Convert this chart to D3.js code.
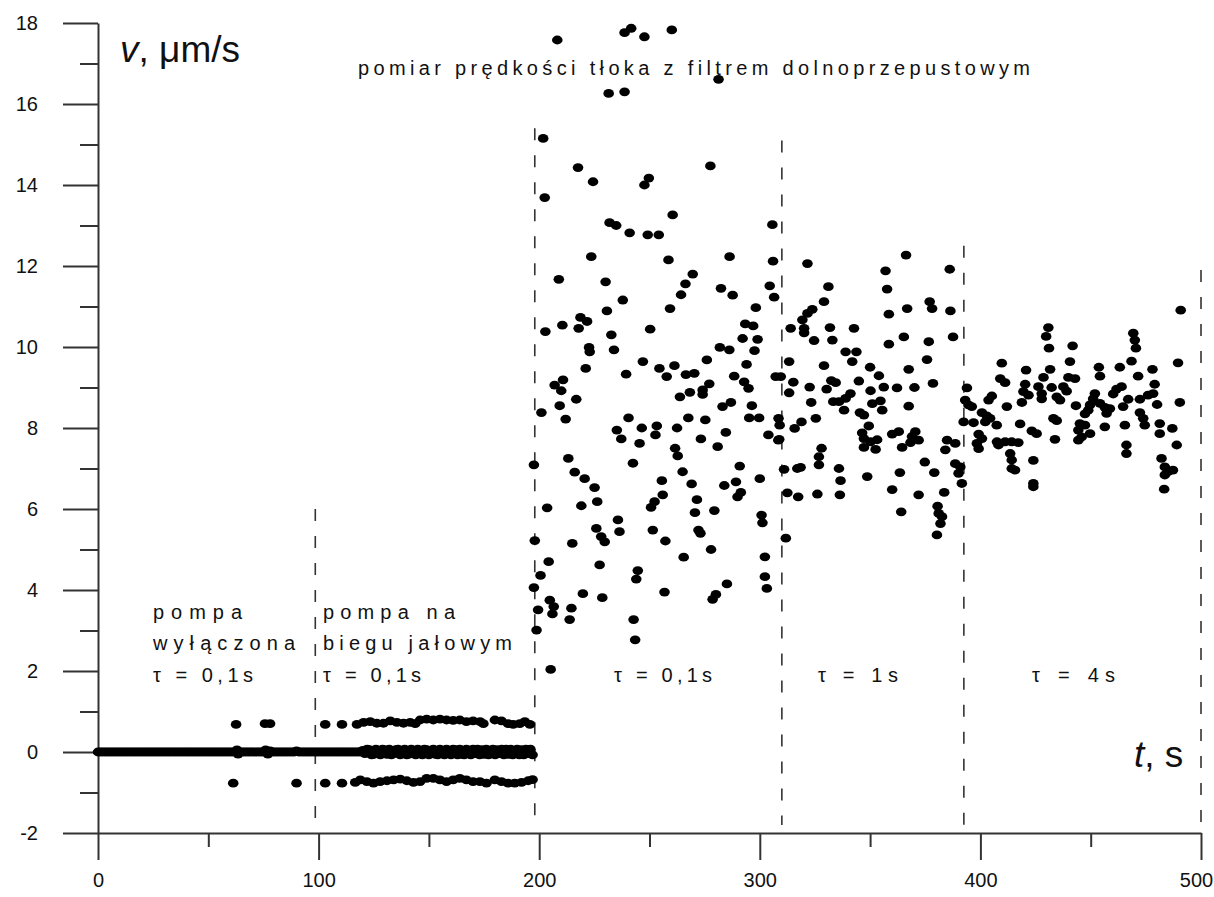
<!DOCTYPE html>
<html>
<head>
<meta charset="utf-8">
<script src="https://cdn.jsdelivr.net/npm/d3@7"></script>
<style>
  body { margin: 0; background: #fff; }
  svg { display: block; }
  text { font-family: "Liberation Sans", Arial, sans-serif; fill: #111; }
</style>
</head>
<body>
<script>
// ---------- DATA ----------
const xTicks = [0, 100, 200, 300, 400, 500];
const xMinorTicks = [50, 150, 250, 350, 450];
const yTicks = [-2, 0, 2, 4, 6, 8, 10, 12, 14, 16, 18];
const yMinorTicks = [-1, 1, 3, 5, 7, 9, 11, 13, 15, 17];

// segment boundaries (dashed lines): time and top value
const boundaryT = [98.5, 198, 310, 392.5, 500];
const boundaryTop = [6.0, 15.4, 15.1, 12.5, 11.9];

// pump off, tau = 0.1 s
const pumpOff = [
 [0,0],[1,0],[2,0],[3,0],[4,0],[5,0],[6,0],[7,0],[8,0],[9,0],[10,0],[11,0],[12,0],[13,0],[14,0],[15,0],[16,0],[17,0],[18,0],[19,0],
 [20,0],[21,0],[22,0],[23,0],[24,0],[25,0],[26,0],[27,0],[28,0],[29,0],[30,0],[31,0],[32,0],[33,0],[34,0],[35,0],[36,0],[37,0],[38,0],[39,0],
 [40,0],[41,0],[42,0],[43,0],[44,0],[45,0],[46,0],[47,0],[48,0],[49,0],[50,0],[51,0],[52,0],[53,0],[54,0],[55,0],[56,0],[57,0],[58,0],[59,0],
 [60,0],[61,0],[62,0],[63,0.05],[63.5,-0.05],[64,0],[65,0],[66,0],[67,0],[68,0],[69,0],[70,0],[71,0],[72,0],[73,0],[74,0],[75,0],[76,0.05],[77,-0.05],[78,0.03],
 [79,0],[80,0],[81,0],[82,0],[83,0],[84,0],[85,0],[86,0],[87,0],[88,0],[89,0],[90,0.03],[91,0],[92,0],[93,0],[94,0],[95,0],[96,0],[97,0],[98,0],[99,0],
 [62.6,0.68],[75.7,0.7],[78,0.7],[61.3,-0.77],[90,-0.77]
];

// pump idle, tau = 0.1 s
const idleTop = [
 [103,0.68],[110.6,0.68],[117.4,0.68],[120.4,0.73],[123.4,0.75],[126.4,0.71],[129.4,0.71],[132.5,0.77],[135.5,0.73],[138.5,0.71],
 [141.5,0.73],[143.8,0.7],[146,0.79],[149,0.81],[152,0.79],[155,0.81],[158,0.79],[161,0.78],[164,0.79],[167,0.75],
 [170,0.77],[173.2,0.75],[174.7,0.7],[179.9,0.79],[182.9,0.77],[185.9,0.7],[188.2,0.68],[191.2,0.7],[193.5,0.75],[195.8,0.68]
];
const idleZero = [
 [100,0],[101,0],[102,0],[103,0],[104,0],[105,0],[106,0],[107,0],[108,0],[109,0],[110,0],[111,0],[112,0],[113,0],[114,0],[115,0],[116,0],[117,0],[118,0],[119,0],
 [120,0.04],[121,-0.04],[122,0.07],[123,0.06],[124,-0.07],[125,-0.06],[126,0.07],[127,0.02],[128,-0.07],[129,0.07],
 [130,0.05],[131,-0.06],[132,0.07],[133,-0.07],[134,-0.04],[135,0.06],[136,0.07],[137,-0.07],[138,0.02],[139,0.07],
 [140,-0.07],[141,-0.05],[142,0.07],[143,0.04],[144,-0.07],[145,0.07],[146,-0.04],[147,-0.07],[148,0.07],[149,0.06],
 [150,-0.07],[151,0],[152,0.07],[153,-0.06],[154,-0.07],[155,0.07],[156,0.04],[157,-0.07],[158,0.07],[159,-0.04],
 [160,-0.07],[161,0.07],[162,0.06],[163,-0.07],[164,0.07],[165,-0.06],[166,-0.07],[167,0.07],[168,0.02],[169,-0.07],
 [170,0.07],[171,-0.04],[172,0.07],[173,-0.07],[174,0.06],[175,-0.06],[176,0.07],[177,-0.07],[178,0.04],[179,0.07],
 [180,-0.07],[181,0.06],[182,-0.04],[183,0.07],[184,-0.07],[185,0.07],[186,-0.06],[187,0.07],[188,-0.07],[189,0.04],
 [190,0.07],[191,-0.07],[192,0.06],[193,-0.07],[194,0.07],[195,-0.04],[196,0.07],[197,-0.07]
];
const idleBottom = [
 [103,-0.77],[110.6,-0.77],[116.6,-0.75],[118.9,-0.69],[121.9,-0.73],[124.9,-0.77],[127.9,-0.73],[131,-0.71],[134,-0.69],[137,-0.67],
 [140,-0.71],[143,-0.75],[146,-0.73],[149,-0.65],[152,-0.65],[155,-0.69],[158,-0.73],[161,-0.69],[164,-0.65],[167,-0.69],
 [170,-0.73],[173.1,-0.73],[176.1,-0.77],[179.9,-0.69],[182.9,-0.73],[185.9,-0.77],[188.9,-0.77],[192,-0.75],[195,-0.71],[197,-0.68]
];

// pump working, tau = 0.1 s
const tau01 = [
 [208.2,17.58],[238.7,17.76],[241.7,17.87],[247.7,17.66],[260.1,17.83],[281.3,16.61],[231.5,16.26],[238.7,16.3],[201.8,15.15],[217.6,14.43],
 [224.4,14.08],[247.7,14.0],[249.7,14.17],[277.6,14.47],[202.5,13.69],[260.5,13.26],[231.9,13.07],[234.9,13.0],[241,12.82],[249.2,12.77],
 [254.2,12.77],[305.7,13.02],
 [223.6,12.23],[258.6,12.15],[286.3,12.23],[306,12.12],[208.9,11.67],[230.1,11.61],[269.6,11.8],[266.3,11.56],[264.3,11.29],[282.4,11.45],
 [287.7,11.28],[304.5,11.51],[306.5,11.23],[237.9,11.16],[259.3,10.95],[298.2,10.97],[230.7,10.89],[218.7,10.73],[221.7,10.63],[217.9,10.46],
 [210.5,10.54],[202.8,10.38],[250.3,10.44],[232.7,10.3],[293.4,10.57],[297,10.52],[292.2,10.21],[299,10.19],[222.6,9.99],[222.9,9.88],
 [233.9,9.93],[281.9,9.99],[286.2,9.93],[297.6,9.91],[247,9.64],[276,9.68],[294,9.57],[221.1,9.47],[254.5,9.47],[261.3,9.54],
 [239.4,9.33],[257.8,9.27],[266.5,9.32],[270.3,9.35],[288.4,9.28],[307.2,9.27],[210.8,9.19],[207,9.06],[210,8.92],[277.1,9.09],
 [274.1,8.94],[274.1,8.83],[292.9,9.14],[294.9,8.98],[268.3,8.88],[263.8,8.77],[216.8,8.71],[209.3,8.55],[201,8.38],[212,8.22],
 [283.1,8.53],[286.9,8.63],[296.4,8.55],[240.5,8.25],[267.6,8.25],[275.3,8.2],[295.2,8.25],[299.7,8.25],[308.5,8.24],[309,8.07],
 [235.2,7.95],[237.2,7.73],[246.5,8.0],[253.3,8.05],[252.7,7.83],[262.5,8.0],[284.6,7.89],[245.5,7.62],[273.3,7.73],[280.9,7.54],
 [303.9,7.83],[308.4,7.7],[261.6,7.5],[262.8,7.31],[213.2,7.25],
 [197.6,7.09],[242.5,7.13],[216.1,6.91],[220.6,6.75],[225.1,6.53],[226.3,6.18],[219.1,6.08],[203.6,6.03],[265,6.92],[269.1,6.62],
 [255.6,6.7],[256,6.35],[252.3,6.18],[250.7,6.04],[290.9,7.06],[289.2,6.67],[283.9,6.58],[291.4,6.41],[289.9,6.3],[300,6.75],
 [271.5,6.23],[270.6,5.91],[279.4,5.96],[300.8,5.85],[301.2,5.66],[235.7,5.73],[236.4,5.44],[225.9,5.52],[228.1,5.32],[229.7,5.19],
 [251.5,5.48],[272.2,5.48],[273.1,5.4],[257.2,5.21],[198,5.22],[215,5.15],[277.9,5.0],[265.5,4.81],[204.3,4.7],[227.4,4.62],
 [200.6,4.36],[244.7,4.48],[244,4.27],[302.3,4.82],[302.3,4.33],[303.2,4.04],[197.6,4.06],[219.8,3.91],[228.6,3.81],[256.8,3.95],
 [285.1,4.15],[280.1,3.89],[278.6,3.77],[204.8,3.75],[206.6,3.59],[206,3.41],[199.5,3.51],[214.6,3.55],[213.8,3.27],[198.8,3.01],
 [242.8,3.27],[243.5,2.77],[205.2,2.04]
];

// tau = 1 s
const tau1 = [
 [366.3,12.27],[321.6,12.06],[357,11.88],[386.1,11.92],[331.1,11.49],[357.7,11.43],[329.1,11.12],[323.8,10.93],[321.6,10.83],[319.3,10.67],
 [377,11.12],[378.1,10.95],[366.8,10.95],[386.4,10.89],[358.5,10.81],[314,10.46],[320.1,10.46],[320.1,10.35],[331.8,10.48],[342.7,10.46],
 [324.6,10.16],[332.9,10.17],[365.3,10.25],[376.6,10.13],[387.6,10.25],[358.5,10.07],[338.9,9.88],[343.8,9.88],[341.9,9.64],[313.3,9.64],
 [375.8,9.69],[329.1,9.54],[350,9.5],[367.5,9.45],[309.5,9.27],[354,9.29],[315.2,9.13],[332.4,9.17],[334.4,9.12],[344.9,9.16],
 [378.5,9.1],[313.3,8.87],[322.6,9.01],[356.2,9.01],[362.2,8.99],[370.1,9.0],[330.3,8.96],[350.2,8.92],[341.1,8.85],[338.9,8.73],
 [335.9,8.65],[333.3,8.65],[323.3,8.63],[351,8.6],[354.7,8.67],[355.5,8.44],[367.5,8.54],[338.2,8.44],[345.4,8.38],[347.2,8.32],
 [325.4,8.24],[318.9,8.15],[315.8,7.99],[349.4,8.05],[346.4,7.88],[347.2,7.74],[353.2,7.71],[350.2,7.66],[360,7.85],[363,7.91],
 [370.5,7.91],[369,7.79],[372,7.7],[368.3,7.64],[308.8,7.72],[384.9,7.7],[388.6,7.62],[384.1,7.46],[328,7.5],[347.2,7.52],
 [352.5,7.47],[364.5,7.52],[374.8,7.16],[388.6,7.12],[390.9,7.04],[390.1,6.88],[391.6,6.63],[326.8,7.29],[326.8,7.09],[311,6.98],
 [317,7.0],[318.5,7.03],[335.9,7.0],[336.6,6.7],[348.7,6.8],[363.5,6.9],[379.1,6.9],[312.5,6.4],[317.4,6.3],[326.1,6.37],
 [336.3,6.35],[360,6.48],[372,6.35],[383.6,6.41],[380.6,6.07],[381.1,5.89],[382.6,5.81],[381.9,5.64],[364.1,5.93],[380.3,5.36],
 [311.8,5.28]
];

// tau = 4 s
const tau4 = [
 [490.8,10.91],[430.8,10.48],[429.8,10.26],[431.1,9.97],[469.3,10.34],[470,10.17],[470.5,9.97],[441.8,10.03],[409.7,9.6],[440.6,9.64],
 [468.5,9.65],[489.6,9.61],[420.7,9.43],[431.6,9.45],[453.7,9.5],[454.2,9.28],[463.2,9.5],[478,9.45],[409,9.22],[411.2,9.12],
 [428.6,9.25],[439.9,9.25],[442.9,9.22],[471.5,9.28],[393.9,8.99],[420.3,9.08],[419.5,8.9],[426.3,9.02],[427.8,8.85],[432.3,9.0],
 [437.6,9.02],[439.1,8.91],[461.7,8.96],[464,9.02],[479,9.08],[405.2,8.79],[403.7,8.69],[421.8,8.81],[427.8,8.72],[436.1,8.69],
 [434.6,8.77],[451.9,8.85],[451.1,8.72],[460.2,8.84],[467,8.71],[472.3,8.71],[476,8.81],[478.3,8.85],[393.1,8.69],[394.6,8.57],
 [396.1,8.53],[418.8,8.63],[412,8.53],[443.3,8.55],[449.7,8.57],[448.9,8.44],[447.4,8.35],[454.2,8.61],[456.4,8.51],[458.7,8.48],
 [457.2,8.36],[464.7,8.53],[480.1,8.58],[490.4,8.63],[400.7,8.38],[402.9,8.3],[472.3,8.38],[473.8,8.24],[474.5,8.07],[392.4,8.15],
 [396.9,8.13],[402.2,8.15],[404.4,8.24],[407.4,8.07],[433.1,8.24],[434.6,8.18],[418,8.1],[445.1,8.11],[447.4,8.07],[444.4,7.95],
 [456.4,8.03],[465.5,8.07],[481.3,8.11],[481.3,7.86],[487,7.99],[423.3,7.93],[425.5,7.86],[399.2,7.85],[400.7,7.74],[398.4,7.62],
 [399.2,7.49],[445.9,7.78],[449.7,7.86],[444.4,7.7],[407.5,7.66],[411.2,7.66],[414.2,7.66],[417.2,7.64],[408.2,7.58],[433.8,7.72],
 [466.2,7.58],[466.2,7.37],[489,7.58],[413.5,7.37],[414.2,7.21],[415.7,6.96],[414.2,7.0],[424,7.2],[482.1,7.25],[483.6,7.04],
 [485.1,6.92],[487.3,6.96],[483.6,6.84],[483.3,6.49],[424,6.63],[424,6.55]
];

// ---------- DRAWING ----------
const W = 1214, H = 897;
const svg = d3.select("body").append("svg").attr("width", W).attr("height", H);

const x = d3.scaleLinear().domain([0, 500]).range([98, 1201]);
const y = d3.scaleLinear().domain([-2, 18]).range([833, 23]);

const axisColor = "#333";
function styleAxis(g) {
  g.select(".domain").attr("stroke", axisColor).attr("stroke-width", 2);
  g.selectAll(".tick line").attr("stroke", axisColor).attr("stroke-width", 2);
  g.selectAll(".tick text").attr("fill", "#111")
    .style("font-family", '"Liberation Sans", Arial, sans-serif').style("font-size", "20px");
}

// x axis
const gx = svg.append("g").attr("transform", `translate(0,${y(-2)})`)
  .call(d3.axisBottom(x).tickValues(xTicks).tickSize(27).tickSizeOuter(0).tickPadding(13).tickFormat(d => String(d)));
styleAxis(gx);
gx.selectAll(".tick text").filter(d => d === 500).attr("dx", "-5");
const gxm = svg.append("g").attr("transform", `translate(0,${y(-2)})`)
  .call(d3.axisBottom(x).tickValues(xMinorTicks).tickSize(14).tickSizeOuter(0).tickFormat(""));
gxm.select(".domain").remove();
styleAxis(gxm);

// y axis
const gy = svg.append("g").attr("transform", `translate(${x(0)},0)`)
  .call(d3.axisLeft(y).tickValues(yTicks).tickSize(35).tickSizeOuter(0).tickPadding(25).tickFormat(d => String(d)));
styleAxis(gy);
const gym = svg.append("g").attr("transform", `translate(${x(0)},0)`)
  .call(d3.axisLeft(y).tickValues(yMinorTicks).tickSize(18).tickSizeOuter(0).tickFormat(""));
gym.select(".domain").remove();
styleAxis(gym);

// dashed boundaries
svg.append("g").selectAll("line").data(boundaryT).join("line")
  .attr("x1", d => x(d)).attr("x2", d => x(d))
  .attr("y1", (d, i) => y(boundaryTop[i])).attr("y2", y(-1.8))
  .attr("stroke", axisColor).attr("stroke-width", 1.6)
  .attr("stroke-dasharray", "12,15");

// points
const allPoints = [].concat(pumpOff, idleZero, idleTop, idleBottom, tau01, tau1, tau4);
svg.append("g").selectAll("ellipse").data(allPoints).join("ellipse")
  .attr("cx", d => x(d[0])).attr("cy", d => y(d[1]))
  .attr("rx", 5.3).attr("ry", 4.4).attr("fill", "#000");

// axis titles
const vt = svg.append("text").attr("x", 120).attr("y", 62).style("font-size", "37px");
vt.append("tspan").style("font-style", "italic").text("v");
vt.append("tspan").text(", μm/s");

const tt = svg.append("text").attr("x", 1134).attr("y", 767).style("font-size", "37px");
tt.append("tspan").style("font-style", "italic").text("t");
tt.append("tspan").text(", s");

// annotations
function label(txt, px, py, len) {
  svg.append("text").attr("x", px).attr("y", py)
    .attr("textLength", len).attr("lengthAdjust", "spacing")
    .style("font-size", "20px").text(txt);
}
label("pomiar prędkości tłoka z filtrem  dolnoprzepustowym", 358, 75, 672);
label("pompa", 153, 619, 89);
label("wyłączona", 153, 650, 142);
label("τ = 0,1s", 153, 682, 100);
label("pompa na", 323, 619, 132);
label("biegu jałowym", 323, 650, 189);
label("τ = 0,1s", 323, 682, 98);
label("τ = 0,1s", 614, 682, 98);
label("τ = 1s", 818, 682, 80);
label("τ = 4s", 1032, 682, 83);
</script>
</body>
</html>
